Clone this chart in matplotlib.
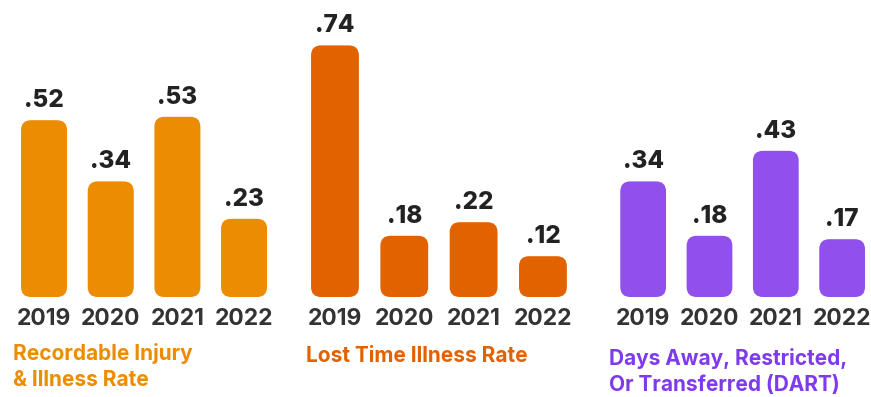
import matplotlib.pyplot as plt
from matplotlib.patches import FancyBboxPatch

years = ["2019", "2020", "2021", "2022"]
recordable = [0.52, 0.34, 0.53, 0.23]
lost_time = [0.74, 0.18, 0.22, 0.12]
dart = [0.34, 0.18, 0.43, 0.17]

titles = ["Recordable Injury\n& Illness Rate",
          "Lost Time Illness Rate",
          "Days Away, Restricted,\nOr Transferred (DART)"]
bar_colors = ["#EC8C00", "#E36200", "#9150EB"]
title_colors = ["#EC8C00", "#E36200", "#7E3AEC"]

W, H = 871, 397
fig = plt.figure(figsize=(W / 100, H / 100), dpi=100)
plt.rcParams['font.family'] = ['Inter', 'DejaVu Sans']

# panel boxes in pixels: left, width ; all share the same baseline and y scale
panels = [(10.7, 266.7), (300.3, 277.3), (610.0, 265.3)]
base_px = 100
top = 0.85
px_per_unit = 340
bar_w = 0.69
radius_px = 10


def draw_panel(left, width, values, color):
    ax = fig.add_axes([left / W, base_px / H, width / W, top * px_per_unit / H])
    ax.set_xlim(-0.5, len(values) - 0.5)
    ax.set_ylim(0, top)
    ax.axis('off')
    x_px = width / len(values)
    aspect = x_px / px_per_unit
    r = radius_px / x_px
    for i, v in enumerate(values):
        ax.add_patch(FancyBboxPatch((i - bar_w / 2, 0), bar_w, v,
                                    boxstyle=f"round,pad=0,rounding_size={r}",
                                    mutation_aspect=aspect,
                                    facecolor=color, edgecolor='none'))
        ax.annotate(f"{v:.2f}".lstrip('0'), (i, v), xytext=(0, 8),
                    textcoords='offset pixels', ha='center', va='bottom',
                    fontsize=17.5, fontweight='heavy', color='#222222',
                    annotation_clip=False)
        ax.annotate(years[i], (i, 0), xytext=(0, -11),
                    textcoords='offset pixels', ha='center', va='top',
                    fontsize=16.5, fontweight='bold', color='#333333',
                    annotation_clip=False)
    return ax


for (left, width), vals, col in zip(panels, [recordable, lost_time, dart], bar_colors):
    draw_panel(left, width, vals, col)

title_pos = [(13, 343), (306, 346), (609, 348)]
for (tx, ty), t, c in zip(title_pos, titles, title_colors):
    fig.text(tx / W, 1 - ty / H, t, ha='left', va='top', fontsize=15,
             fontweight='bold', color=c, linespacing=1.38)

fig.savefig('out.png', dpi=100)
